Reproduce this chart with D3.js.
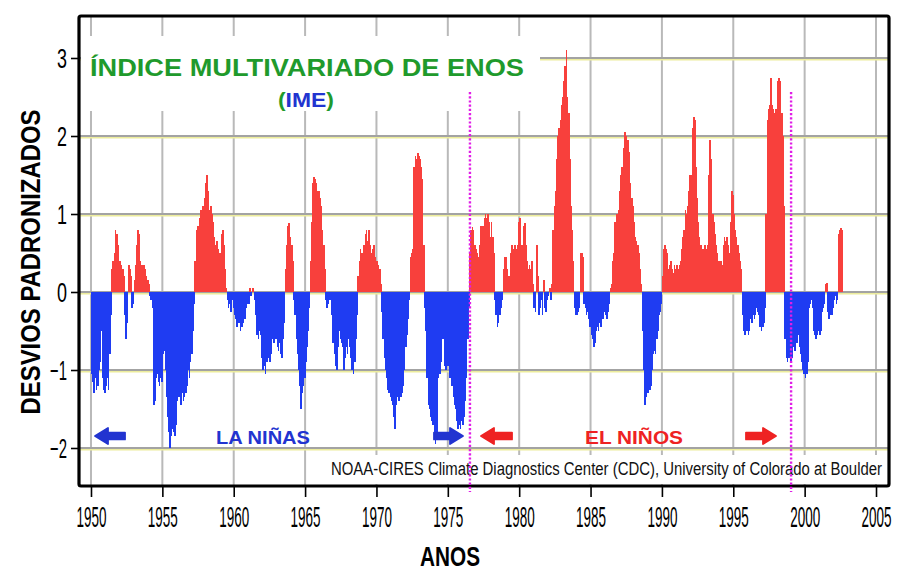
<!DOCTYPE html>
<html>
<head>
<meta charset="utf-8">
<script src="https://cdn.jsdelivr.net/npm/d3@7"></script>
<style>
  body { margin: 0; background: #fff; }
  svg { display: block; }
</style>
</head>
<body>
<svg id="chart" width="898" height="572"></svg>
<script>
// Multivariate ENSO Index, monthly standardized departures (Jan 1950 onward)
const firstYear = 1950;
const meiMonthly = [
  /* 1950 */ -1.05,-1.15,-1.3,-1.1,-1.25,-1.2,-1.0,-0.9,-0.5,-1.1,-1.25,-1.3,
  /* 1951 */ -1.2,-1.1,-1.25,-0.8,-0.3,0.3,0.4,0.5,0.8,0.75,0.6,0.4,
  /* 1952 */ 0.4,0.35,0.3,0.2,-0.3,-0.6,-0.4,0.35,0.3,0.2,-0.2,-0.15,
  /* 1953 */ 0.15,0.35,0.6,0.8,0.75,0.4,0.35,0.3,0.35,0.3,0.2,0.15,
  /* 1954 */ 0.1,-0.05,-0.1,-0.2,-1.45,-1.4,-1.1,-1.05,-1.15,-1.2,-1.1,-1.15,
  /* 1955 */ -0.8,-0.75,-1.0,-1.35,-1.6,-1.8,-2.0,-1.85,-1.75,-1.8,-1.85,-1.7,
  /* 1956 */ -1.4,-1.35,-1.3,-1.45,-1.3,-1.4,-1.35,-1.3,-1.2,-1.0,-1.1,-0.9,
  /* 1957 */ -0.8,-0.5,-0.15,0.4,0.8,0.85,0.85,0.95,1.05,1.1,1.1,1.2,
  /* 1958 */ 1.4,1.5,1.3,1.05,1.1,1.0,0.9,0.7,0.6,0.65,0.55,0.4,
  /* 1959 */ 0.5,0.75,0.8,0.6,0.3,0.05,-0.1,-0.2,-0.15,-0.25,-0.1,-0.2,
  /* 1960 */ -0.3,-0.35,-0.45,-0.3,-0.4,-0.5,-0.45,-0.4,-0.3,-0.35,-0.2,-0.15,
  /* 1961 */ -0.15,0.05,-0.05,0.05,0.05,-0.1,-0.3,-0.55,-0.6,-0.5,-0.55,-0.85,
  /* 1962 */ -1.0,-0.95,-1.05,-0.9,-0.85,-0.8,-0.9,-0.8,-0.6,-0.65,-0.55,-0.6,
  /* 1963 */ -0.7,-0.75,-0.65,-0.8,-0.85,-0.6,-0.4,0.3,0.6,0.85,0.88,0.7,
  /* 1964 */ 0.6,0.4,-0.1,-0.3,-0.6,-0.8,-1.0,-1.2,-1.5,-1.3,-1.2,-1.1,
  /* 1965 */ -0.9,-0.7,-0.5,-0.2,0.4,0.9,1.4,1.47,1.45,1.4,1.3,1.3,
  /* 1966 */ 1.2,1.1,0.8,0.6,0.3,-0.1,-0.2,-0.15,-0.1,-0.05,-0.3,-0.65,
  /* 1967 */ -0.8,-0.95,-1.0,-0.7,-0.5,-0.6,-0.65,-0.7,-1.0,-0.85,-0.7,-0.8,
  /* 1968 */ -0.6,-0.7,-0.85,-1.0,-1.05,-0.9,-0.6,-0.3,0.2,0.4,0.55,0.5,
  /* 1969 */ 0.45,0.6,0.75,0.8,0.65,0.8,0.6,0.5,0.55,0.6,0.45,0.4,
  /* 1970 */ 0.4,0.35,0.3,0.1,-0.25,-0.6,-0.85,-1.0,-1.1,-1.25,-1.3,-1.35,
  /* 1971 */ -1.4,-1.45,-1.6,-1.75,-1.45,-1.35,-1.4,-1.3,-1.35,-1.3,-1.2,-1.0,
  /* 1972 */ -0.7,-0.55,-0.35,-0.1,0.45,0.5,0.55,1.6,1.75,1.7,1.78,1.75,
  /* 1973 */ 1.7,1.6,1.45,0.6,-0.2,-0.5,-1.1,-1.45,-1.5,-1.6,-1.65,-1.7,
  /* 1974 */ -1.9,-1.95,-1.8,-1.1,-1.0,-1.05,-0.9,-0.6,-0.55,-0.95,-1.0,-0.95,
  /* 1975 */ -0.95,-1.1,-1.0,-1.2,-1.35,-1.45,-1.5,-1.65,-1.75,-1.7,-1.75,-1.65,
  /* 1976 */ -1.7,-1.6,-1.4,-1.1,-0.6,-0.2,0.5,0.8,0.83,0.8,0.6,0.55,
  /* 1977 */ 0.5,0.45,0.6,0.85,0.8,0.85,0.95,1.0,0.95,1.0,0.9,0.7,
  /* 1978 */ 0.9,0.7,0.5,-0.1,-0.3,-0.45,-0.4,-0.3,-0.2,-0.1,0.3,0.45,
  /* 1979 */ 0.45,0.3,0.05,0.2,0.5,0.6,0.55,0.5,0.6,0.55,0.6,0.9,
  /* 1980 */ 0.95,0.6,0.6,0.85,0.88,0.6,0.4,0.3,0.35,0.3,0.4,0.1,
  /* 1981 */ -0.2,-0.25,0.6,0.2,-0.3,-0.2,-0.1,-0.3,0.15,-0.2,-0.25,-0.1,
  /* 1982 */ -0.05,0.05,-0.1,0.1,0.8,1.1,1.3,1.7,2.0,2.1,2.2,2.4,
  /* 1983 */ 2.5,2.7,2.9,3.1,2.5,2.3,1.7,1.1,0.8,0.4,-0.2,-0.3,
  /* 1984 */ -0.3,-0.25,-0.2,0.5,0.5,0.45,-0.15,-0.2,-0.3,-0.25,-0.35,-0.45,
  /* 1985 */ -0.55,-0.6,-0.7,-0.65,-0.5,-0.45,-0.5,-0.4,-0.45,-0.3,-0.35,-0.25,
  /* 1986 */ -0.3,-0.35,-0.25,-0.15,0.05,0.1,0.4,0.5,0.9,1.0,1.0,1.05,
  /* 1987 */ 1.3,1.5,1.6,1.85,2.05,2.0,1.9,1.95,1.8,1.4,1.2,1.1,
  /* 1988 */ 0.9,0.7,0.65,0.6,0.5,0.3,0.1,-0.5,-1.0,-1.45,-1.35,-1.3,
  /* 1989 */ -1.3,-1.25,-1.2,-1.0,-0.8,-0.75,-0.8,-0.6,-0.5,-0.3,-0.25,-0.15,
  /* 1990 */ 0.2,0.55,0.6,0.55,0.5,0.3,0.35,0.4,0.3,0.25,0.35,0.3,
  /* 1991 */ 0.35,0.3,0.35,0.4,0.55,0.7,0.8,1.05,1.0,1.1,1.3,1.5,
  /* 1992 */ 1.5,2.1,2.25,2.2,1.6,1.2,0.9,0.7,0.6,0.55,0.55,0.6,
  /* 1993 */ 0.6,0.55,0.6,1.5,1.95,1.7,1.0,0.9,0.75,0.6,0.5,0.4,
  /* 1994 */ 0.35,0.4,0.35,0.6,0.7,0.65,0.7,0.6,0.5,0.9,1.3,1.25,
  /* 1995 */ 1.0,0.8,0.7,0.6,0.5,0.4,0.3,-0.3,-0.5,-0.55,-0.5,-0.5,
  /* 1996 */ -0.55,-0.5,-0.35,-0.4,-0.3,-0.35,-0.3,-0.2,-0.25,-0.3,-0.45,-0.5,
  /* 1997 */ -0.45,-0.4,-0.2,1.0,2.2,2.35,2.4,2.75,2.4,2.35,2.3,2.35,
  /* 1998 */ 2.35,2.7,2.75,2.7,2.3,2.0,1.1,-0.6,-0.85,-0.9,-0.85,-0.8,
  /* 1999 */ -0.9,-0.85,-0.7,-0.75,-0.6,-0.65,-0.55,-0.7,-0.8,-0.9,-1.0,-1.05,
  /* 2000 */ -1.1,-1.05,-0.9,-0.2,-0.15,-0.1,-0.2,-0.5,-0.55,-0.6,-0.55,-0.5,
  /* 2001 */ -0.55,-0.5,-0.25,-0.2,-0.15,0.1,0.12,-0.25,-0.35,-0.3,-0.3,-0.2,
  /* 2002 */ -0.1,-0.05,-0.15,-0.1,0.75,0.8,0.82,0.8
];
const yTickValues = [-2, -1, 0, 1, 2, 3];
const xTickYears = [1950, 1955, 1960, 1965, 1970, 1975, 1980, 1985, 1990, 1995, 2000, 2005];
// dates (decimal years) of the two marked regime changes
const regimeShifts = [1976.55, 1999.05];

const svg = d3.select("#chart");
const W = 898, H = 572;
const plot = { left: 79, right: 889, top: 16, bottom: 486 };

const x = d3.scaleLinear().domain([1949.16, 2005.91]).range([plot.left, plot.right]);
const y = d3.scaleLinear().domain([-2, 3]).range([448, 58]);

const colors = {
  warm: "#f8403c",
  cold: "#1f3cf2",
  grid: "#a3a3a3",
  gridTint: "#ecec9c",
  vgrid: "#b9b9b9",
  green: "#1f9a2c",
  blueText: "#2234d0",
  redText: "#ee2222",
  magenta: "#e01ee6"
};

const condensed = "'Liberation Sans Narrow','Arial Narrow','Liberation Sans',Arial,sans-serif";
const bold = "'Liberation Sans',Arial,Helvetica,sans-serif";

svg.append("rect").attr("width", W).attr("height", H).attr("fill", "#fff");

// grid
const grid = svg.append("g");
grid.selectAll("line.v").data(xTickYears).join("line")
  .attr("class", "v")
  .attr("x1", d => x(d)).attr("x2", d => x(d))
  .attr("y1", plot.top).attr("y2", plot.bottom)
  .attr("stroke", colors.vgrid).attr("stroke-width", 2);
grid.selectAll("line.ht").data(yTickValues).join("line")
  .attr("class", "ht")
  .attr("x1", plot.left).attr("x2", plot.right)
  .attr("y1", d => y(d) + 1.8).attr("y2", d => y(d) + 1.8)
  .attr("stroke", colors.gridTint).attr("stroke-width", 1.6);
grid.selectAll("line.h").data(yTickValues).join("line")
  .attr("class", "h")
  .attr("x1", plot.left).attr("x2", plot.right)
  .attr("y1", d => y(d)).attr("y2", d => y(d))
  .attr("stroke", colors.grid).attr("stroke-width", 2);

// white panel behind the title
svg.append("rect")
  .attr("x", plot.left + 2).attr("y", 36)
  .attr("width", 538 - plot.left).attr("height", 75)
  .attr("fill", "#fff");

// monthly bars
const months = meiMonthly.map((v, i) => ({ t: firstYear + i / 12, v }));
const dt = 1 / 12;
svg.append("g").attr("shape-rendering", "crispEdges")
  .selectAll("rect").data(months).join("rect")
  .attr("x", d => x(d.t))
  .attr("width", d => x(d.t + dt) - x(d.t) + 0.5)
  .attr("y", d => Math.min(y(d.v), y(0)))
  .attr("height", d => Math.abs(y(d.v) - y(0)))
  .attr("fill", d => d.v >= 0 ? colors.warm : colors.cold);

// credit line panel
svg.append("rect")
  .attr("x", 326).attr("y", 455)
  .attr("width", plot.right - 328).attr("height", 29)
  .attr("fill", "#fff");
svg.append("text")
  .attr("x", 331).attr("y", 475)
  .attr("textLength", 551).attr("lengthAdjust", "spacingAndGlyphs")
  .attr("font-family", condensed).attr("font-size", 18)
  .attr("fill", "#111")
  .text("NOAA-CIRES Climate Diagnostics Center (CDC), University of Colorado at Boulder");

// frame
svg.append("rect")
  .attr("x", plot.left).attr("y", plot.top)
  .attr("width", plot.right - plot.left).attr("height", plot.bottom - plot.top)
  .attr("rx", 2)
  .attr("fill", "none").attr("stroke", "#000").attr("stroke-width", 3.2);

// axes
const yAxis = d3.axisLeft(y).tickValues(yTickValues).tickSize(8).tickPadding(4)
  .tickFormat(d3.format("d"));
const gy = svg.append("g").attr("transform", `translate(${plot.left},0)`).call(yAxis);
gy.select(".domain").remove();
gy.selectAll(".tick line").attr("stroke", "#000").attr("stroke-width", 1.6);
gy.selectAll(".tick text")
  .attr("font-family", condensed).attr("font-size", 27).attr("fill", "#000")
  .attr("dy", "0.36em")
  .attr("textLength", d => d < 0 ? 17 : 10)
  .attr("lengthAdjust", "spacingAndGlyphs");

const xAxis = d3.axisBottom(x).tickValues(xTickYears).tickSize(11).tickPadding(9)
  .tickFormat(d3.format("d"));
const gx = svg.append("g").attr("transform", `translate(0,${plot.bottom})`).call(xAxis);
gx.select(".domain").remove();
gx.selectAll(".tick line").attr("stroke", "#000").attr("stroke-width", 1.6);
gx.selectAll(".tick text")
  .attr("font-family", condensed).attr("font-size", 29).attr("fill", "#000")
  .attr("textLength", 30).attr("lengthAdjust", "spacingAndGlyphs");

// regime-change markers
svg.append("g").selectAll("line").data(regimeShifts).join("line")
  .attr("x1", d => x(d)).attr("x2", d => x(d))
  .attr("y1", 92).attr("y2", 492)
  .attr("stroke", colors.magenta).attr("stroke-width", 2.4)
  .attr("stroke-dasharray", "2.2,2");

// titles
svg.append("text")
  .attr("x", 90).attr("y", 76)
  .attr("textLength", 434).attr("lengthAdjust", "spacingAndGlyphs")
  .attr("font-family", bold).attr("font-weight", "bold").attr("font-size", 24)
  .attr("fill", colors.green)
  .text("ÍNDICE MULTIVARIADO DE ENOS");

const sub = svg.append("text")
  .attr("x", 278).attr("y", 107)
  .attr("textLength", 56).attr("lengthAdjust", "spacingAndGlyphs")
  .attr("font-family", bold).attr("font-weight", "bold").attr("font-size", 20);
sub.append("tspan").attr("fill", colors.green).text("(");
sub.append("tspan").attr("fill", colors.blueText).text("IME");
sub.append("tspan").attr("fill", colors.green).text(")");

svg.append("text")
  .attr("transform", "translate(40,262) rotate(-90)")
  .attr("text-anchor", "middle")
  .attr("textLength", 305).attr("lengthAdjust", "spacingAndGlyphs")
  .attr("font-family", condensed).attr("font-weight", "bold").attr("font-size", 27)
  .attr("fill", "#000")
  .text("DESVIOS PADRONIZADOS");

svg.append("text")
  .attr("x", 450).attr("y", 566)
  .attr("text-anchor", "middle")
  .attr("textLength", 60).attr("lengthAdjust", "spacingAndGlyphs")
  .attr("font-family", condensed).attr("font-weight", "bold").attr("font-size", 27)
  .attr("fill", "#000")
  .text("ANOS");

// phase annotations with arrows
svg.append("text")
  .attr("x", 216).attr("y", 444)
  .attr("textLength", 94).attr("lengthAdjust", "spacingAndGlyphs")
  .attr("font-family", bold).attr("font-weight", "bold").attr("font-size", 19)
  .attr("fill", colors.blueText)
  .text("LA NIÑAS");
svg.append("text")
  .attr("x", 585).attr("y", 444)
  .attr("textLength", 98).attr("lengthAdjust", "spacingAndGlyphs")
  .attr("font-family", bold).attr("font-weight", "bold").attr("font-size", 19)
  .attr("fill", colors.redText)
  .text("EL NIÑOS");

function arrowPath(tipX, tailX, cy) {
  const dir = tailX > tipX ? 1 : -1;
  const headLen = 13, headHalf = 8, shaftHalf = 3.4;
  const hx = tipX + dir * headLen;
  return `M${tipX},${cy} L${hx},${cy - headHalf} L${hx},${cy - shaftHalf} L${tailX},${cy - shaftHalf}` +
         ` L${tailX},${cy + shaftHalf} L${hx},${cy + shaftHalf} L${hx},${cy + headHalf} Z`;
}
const arrows = [
  { tip: 95, tail: 125, color: colors.blueText },
  { tip: 463, tail: 434, color: colors.blueText },
  { tip: 481, tail: 512, color: colors.redText },
  { tip: 776, tail: 746, color: colors.redText }
];
svg.append("g").selectAll("path").data(arrows).join("path")
  .attr("d", d => arrowPath(d.tip, d.tail, 436))
  .attr("fill", d => d.color)
  .attr("stroke", d => d.color).attr("stroke-width", 1.8)
  .attr("stroke-linejoin", "round");
</script>
</body>
</html>
